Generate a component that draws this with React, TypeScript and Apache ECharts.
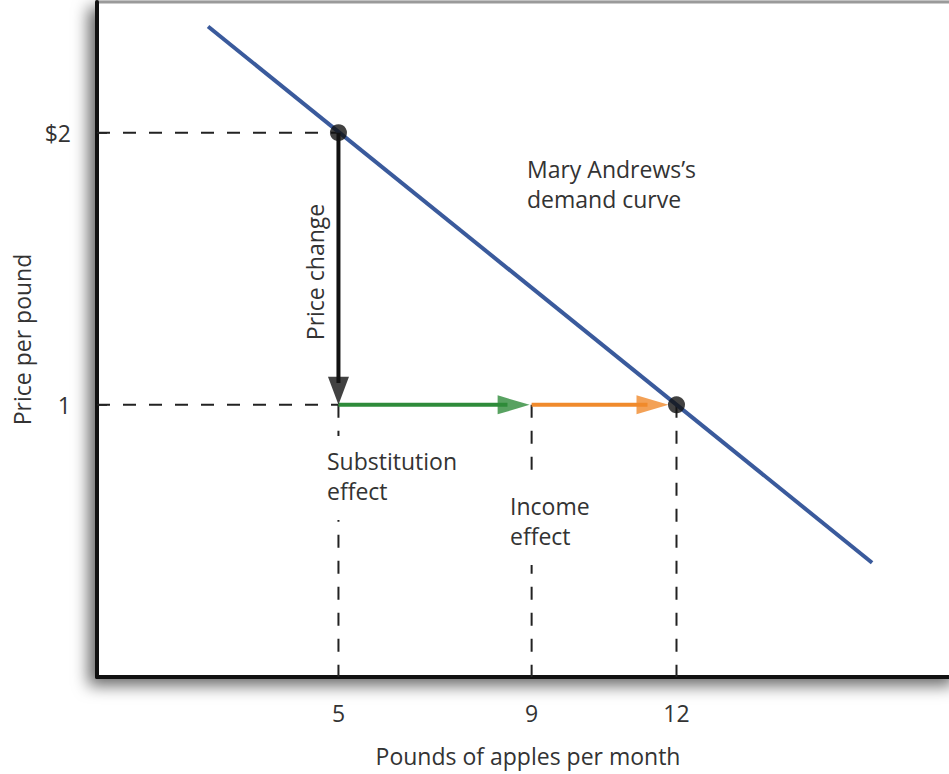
import React, { useEffect, useRef } from "react";
import * as echarts from "echarts";

const xTicks = [5, 9, 12];
const yTicks = [1, 2];
const yTickLabels: Record<number, string> = { 1: "1", 2: "$2" };
const demandCurve = [
  [2.3, 2.39],
  [16.05, 0.42],
];
const startPoint = [5, 2];
const endPoint = [12, 1];
const substitutionPoint = [9, 1];
const xAxisName = "Pounds of apples per month";
const yAxisName = "Price per pound";
const curveLabel = "Mary Andrews’s\ndemand curve";
const priceChangeLabel = "Price change";
const substitutionLabel = "Substitution\neffect";
const incomeLabel = "Income\neffect";

const FONT = "'Open Sans', 'Noto Sans', sans-serif";
const TEXT = "#333";
const FS = 23;

export default function App() {
  const ref = useRef<HTMLDivElement>(null);
  useEffect(() => {
    if (!ref.current) return;
    const chart = echarts.init(ref.current, null, { renderer: "svg" });
    const dash = { color: "#222", width: 2, type: [13, 13] as number[] };
    const dashedSeries = (data: number[][]) => ({
      type: "line",
      data,
      symbol: "none",
      silent: true,
      lineStyle: dash,
      z: 1,
    });
    const shaft = (from: number[], to: number[], color: string) => ({
      type: "line",
      data: [from, to],
      symbol: "none",
      silent: true,
      lineStyle: { color, width: 4 },
      z: 3,
    });
    const head = (
      at: number[],
      color: string,
      size: number[],
      rotate: number,
      offset: number[]
    ) => ({
      type: "scatter",
      data: [at],
      symbol: "triangle",
      symbolSize: size,
      symbolRotate: rotate,
      symbolOffset: offset,
      itemStyle: { color },
      silent: true,
      z: 4,
    });
    const downCorner = [startPoint[0], endPoint[1]];
    chart.setOption({
      animation: false,
      backgroundColor: "#fff",
      textStyle: { fontFamily: FONT },
      grid: {
        show: true,
        left: 97,
        right: -10,
        top: 2,
        bottom: 97,
        outerBoundsMode: "none",
        containLabel: false,
        backgroundColor: "#fff",
        borderColor: "#9a9a9a",
        borderWidth: 3,
        shadowBlur: 16,
        shadowColor: "rgba(0,0,0,0.6)",
        shadowOffsetX: -7,
        shadowOffsetY: 7,
      },
      xAxis: {
        type: "value",
        min: 0,
        max: 17.85,
        name: xAxisName,
        nameLocation: "middle",
        nameGap: 67,
        nameTextStyle: { fontSize: FS, color: TEXT, fontFamily: FONT },
        axisLine: { show: true, onZero: false, lineStyle: { color: "#111", width: 4 } },
        axisTick: { show: false },
        splitLine: { show: false },
        axisLabel: {
          customValues: xTicks,
          margin: 24,
          fontSize: FS,
          color: TEXT,
          fontFamily: FONT,
        },
      },
      yAxis: {
        type: "value",
        min: 0,
        max: 2.48,
        name: yAxisName,
        nameLocation: "middle",
        nameGap: 62,
        nameRotate: 90,
        nameTextStyle: { fontSize: FS, color: TEXT, fontFamily: FONT },
        axisLine: { show: true, onZero: false, lineStyle: { color: "#111", width: 4 } },
        axisTick: {
          show: true,
          customValues: yTicks,
          inside: true,
          length: 10,
          lineStyle: { color: "#111", width: 1.5 },
        },
        splitLine: { show: false },
        axisLabel: {
          customValues: yTicks,
          margin: 26,
          fontSize: FS,
          color: TEXT,
          fontFamily: FONT,
          formatter: (v: number) => yTickLabels[v] ?? "",
        },
      },
      series: [
        dashedSeries([[0, startPoint[1]], startPoint]),
        dashedSeries([[0, endPoint[1]], downCorner]),
        dashedSeries([downCorner, [startPoint[0], 0]]),
        dashedSeries([substitutionPoint, [substitutionPoint[0], 0]]),
        dashedSeries([endPoint, [endPoint[0], 0]]),
        {
          type: "line",
          data: demandCurve,
          symbol: "none",
          silent: true,
          lineStyle: { color: "#3a5a9c", width: 4 },
          z: 2,
        },
        shaft(startPoint, [startPoint[0], endPoint[1] + 0.08], "#111"),
        head(downCorner, "#111", [21, 28], 180, [0, -14]),
        shaft(downCorner, [substitutionPoint[0] - 0.5, substitutionPoint[1]], "#2e8b3a"),
        head(substitutionPoint, "#2e8b3a", [19, 32], -90, [-18, 0]),
        shaft(substitutionPoint, [endPoint[0] - 0.6, endPoint[1]], "#f08a2c"),
        head(endPoint, "#f08a2c", [19, 32], -90, [-24, 0]),
        {
          type: "scatter",
          data: [startPoint, endPoint],
          symbol: "circle",
          symbolSize: 17,
          itemStyle: { color: "#111" },
          silent: true,
          z: 5,
        },
      ],
      graphic: [
        {
          type: "text",
          left: 527,
          top: 154,
          z: 10,
          style: { text: curveLabel, font: `${FS}px ${FONT}`, fill: TEXT, lineHeight: 30 },
        },
        {
          type: "text",
          x: 315,
          y: 272,
          z: 10,
          rotation: Math.PI / 2,
          style: {
            text: priceChangeLabel,
            font: `${FS}px ${FONT}`,
            fill: TEXT,
            align: "center",
            verticalAlign: "middle",
          },
        },
        {
          type: "text",
          left: 323,
          top: 436,
          z: 10,
          style: {
            text: substitutionLabel,
            font: `${FS}px ${FONT}`,
            fill: TEXT,
            lineHeight: 30,
            backgroundColor: "#fff",
            padding: [10, 4, 14, 4],
          },
        },
        {
          type: "text",
          left: 506,
          top: 478,
          z: 10,
          style: {
            text: incomeLabel,
            font: `${FS}px ${FONT}`,
            fill: TEXT,
            lineHeight: 30,
            backgroundColor: "#fff",
            padding: [13, 4, 14, 4],
          },
        },
      ],
    });
    return () => chart.dispose();
  }, []);
  return (
    <div
      ref={ref}
      style={{ position: "fixed", left: 0, top: 0, width: 949, height: 774 }}
    />
  );
}
